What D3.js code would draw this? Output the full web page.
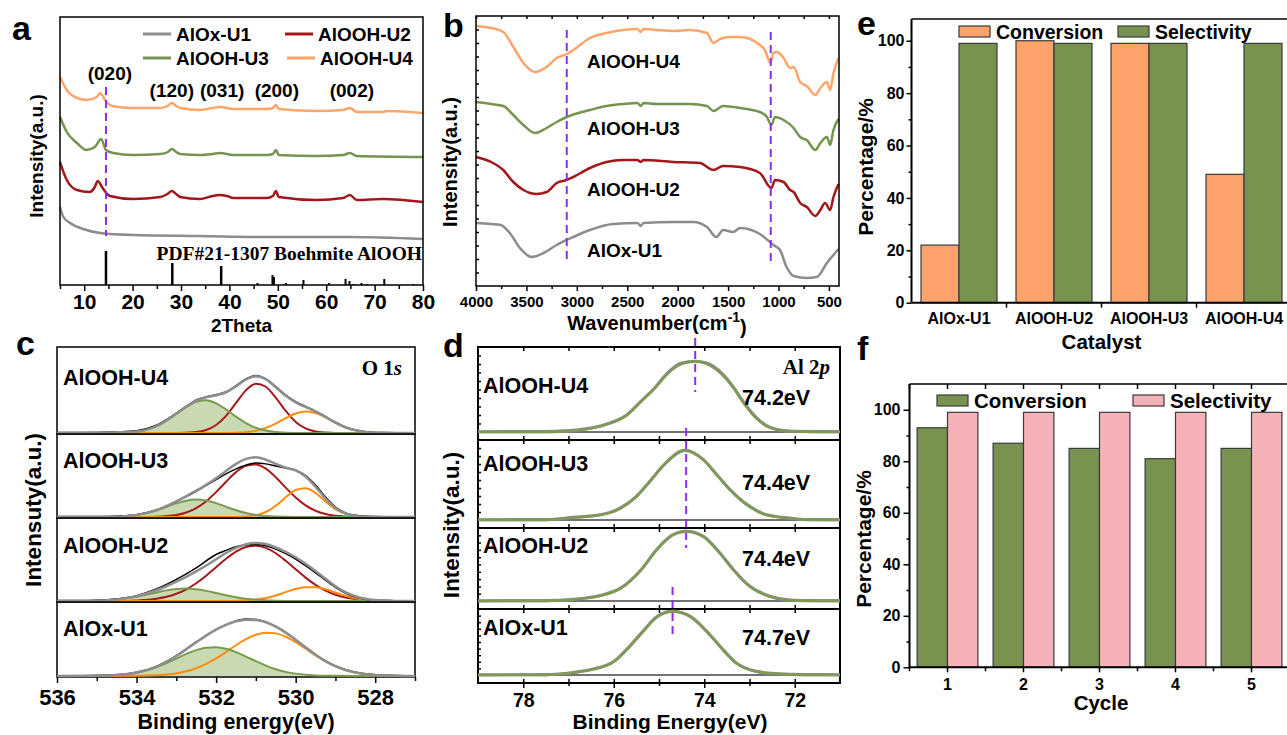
<!DOCTYPE html>
<html>
<head>
<meta charset="utf-8">
<script src="https://cdn.jsdelivr.net/npm/d3@7"></script>
<style>
  body { margin: 0; background: #fff; }
  svg { display: block; }
</style>
</head>
<body>
<div class="chart"></div>
<script>
// ---- shared ----
let samples = ['AlOx-U1', 'AlOOH-U2', 'AlOOH-U3', 'AlOOH-U4']

// ---- a: XRD (2theta, a.u.) ----
let xrdU1 = [[5, 7.8], [5.7, 6.8], [7.1, 6.2], [9.8, 5.6], [13.3, 5.2], [20.1, 5.0], [33.9, 4.9], [47.7, 4.8], [64.9, 4.8], [80, 4.6]]
let xrdU2 = [[5, 12.3], [6.4, 10.5], [8.5, 9.5], [11.1, 9.3], [12.2, 9.8], [12.8, 10.4], [13.8, 9.7], [15.3, 8.9], [20.1, 8.6], [25.7, 8.8], [27.2, 9.1], [28.1, 9.4], [29, 9.1], [29.8, 8.8], [33.9, 8.6], [36.5, 8.9], [37.8, 9.0], [39.5, 8.9], [40.8, 8.7], [47.7, 8.7], [49, 8.9], [49.6, 9.4], [50.2, 8.8], [58, 8.5], [63.5, 8.7], [64.9, 9.0], [66.3, 8.5], [71.8, 8.6], [80, 8.3]]
let xrdU3 = [[5, 16.8], [6.4, 15.3], [8.5, 14.2], [10.5, 13.5], [12.2, 13.8], [13.5, 14.6], [14.5, 13.5], [16, 13.2], [20, 13.0], [25.7, 13.1], [27.3, 13.3], [28.1, 13.6], [29, 13.3], [29.8, 13.1], [33.9, 13.0], [36.5, 13.1], [38.1, 13.2], [40.8, 13.0], [47.7, 13.0], [49, 13.1], [49.6, 13.5], [50.2, 13.0], [58, 12.9], [63.5, 13.0], [64.9, 13.2], [66.3, 12.9], [80, 12.8]]
let xrdU4 = [[5, 20.8], [6.4, 19.5], [8.5, 18.7], [10.5, 18.5], [12.6, 18.8], [13.3, 19.2], [14.3, 18.5], [15.3, 18.0], [17, 17.8], [20, 17.7], [25.7, 17.7], [27.2, 17.9], [28.1, 18.2], [29, 17.9], [29.8, 17.7], [33.9, 17.5], [36.5, 17.7], [38.1, 17.8], [40.8, 17.6], [47.7, 17.6], [49, 17.7], [49.6, 18.0], [50.2, 17.6], [58, 17.4], [63.5, 17.5], [64.9, 17.7], [66.3, 17.3], [71.8, 17.3], [72.5, 17.4], [80, 17.2]]
let pdfSticks = [[14.5, 3.4], [28.2, 2.2], [38.3, 1.9], [45.8, 0.2], [48.9, 1.0], [49.2, 0.8], [51.7, 0.2], [55.3, 0.5], [60.6, 0.2], [64.0, 0.6], [64.8, 0.4], [65.7, 0.1], [67.3, 0.2], [68.4, 0.1], [72.0, 0.6], [78.0, 0.1]]
let xrdPlanes = ['(020)', '(120)', '(031)', '(200)', '(002)']
let xrdPlaneAt = [15.3, 28.1, 38.5, 49.8, 65.3]

// ---- b: FTIR (cm-1, a.u.) ----
let ftirU1 = [[4000, 6.3], [3850, 6.2], [3755, 6.1], [3665, 5.3], [3565, 3.8], [3450, 2.9], [3330, 3.3], [3200, 4.1], [3035, 4.9], [2870, 5.6], [2640, 6.2], [2400, 6.3], [2365, 6.0], [2340, 6.3], [2045, 6.4], [1845, 6.4], [1710, 5.9], [1615, 4.9], [1550, 5.6], [1450, 5.4], [1380, 5.8], [1185, 5.2], [1050, 4.1], [985, 3.6], [920, 1.9], [850, 1.0], [720, 0.8], [620, 0.9], [520, 2.3], [405, 3.7]]
let ftirU2 = [[4000, 12.9], [3850, 12.4], [3730, 11.6], [3630, 10.4], [3530, 9.6], [3400, 9.2], [3300, 9.4], [3200, 10.3], [3100, 10.6], [3035, 10.9], [2870, 11.8], [2705, 12.4], [2540, 12.6], [2400, 12.6], [2365, 12.4], [2340, 12.6], [2045, 12.4], [1780, 12.3], [1645, 11.6], [1550, 12.0], [1380, 11.9], [1185, 11.3], [1070, 9.8], [1035, 10.6], [950, 10.4], [885, 9.6], [850, 9.4], [785, 8.3], [720, 7.9], [635, 7.0], [585, 7.6], [538, 8.3], [488, 7.6], [455, 8.9], [405, 10.2]]
let ftirU3 = [[4000, 18.4], [3850, 18.2], [3730, 18.0], [3630, 17.1], [3530, 16.1], [3415, 15.3], [3300, 15.8], [3200, 16.4], [3100, 16.9], [2870, 17.6], [2705, 18.0], [2540, 18.2], [2400, 18.3], [2365, 18.0], [2340, 18.3], [2210, 18.2], [1880, 18.2], [1710, 18.0], [1645, 17.5], [1550, 18.0], [1380, 17.8], [1185, 17.4], [1115, 16.9], [1070, 16.1], [1035, 16.9], [950, 16.6], [850, 15.8], [785, 14.9], [720, 14.6], [635, 13.6], [585, 14.3], [520, 14.9], [488, 14.1], [455, 15.6], [405, 16.7]]
let ftirU4 = [[4000, 26.0], [3850, 25.8], [3730, 25.4], [3630, 23.9], [3530, 22.3], [3415, 21.4], [3300, 21.9], [3200, 22.8], [3100, 23.2], [3035, 23.6], [2870, 24.8], [2705, 25.3], [2540, 25.6], [2400, 25.7], [2365, 25.4], [2340, 25.7], [2210, 25.6], [2045, 25.5], [1880, 25.6], [1710, 25.3], [1645, 24.3], [1580, 24.7], [1480, 24.9], [1380, 24.9], [1280, 24.7], [1185, 24.1], [1135, 23.6], [1080, 22.3], [1050, 23.3], [1015, 23.4], [950, 22.8], [885, 21.8], [850, 21.9], [785, 20.4], [720, 20.0], [635, 19.1], [585, 19.8], [520, 20.4], [488, 19.6], [455, 21.3], [405, 22.8]]
let ftirMarks = [3100, 1077]

// ---- c: O 1s XPS (eV, % of box height) ----
let o1sU4Raw = [[536, 0.5], [535, 0.6], [534.5, 1.2], [534, 2.5], [533.5, 9], [533, 23], [532.75, 31], [532.5, 38.5], [532.25, 42], [532, 44.5], [531.75, 48], [531.5, 55], [531.25, 63], [531, 67], [530.75, 63], [530.5, 54], [530.25, 44], [530, 36.5], [529.75, 31], [529.5, 25.5], [529.25, 19], [529, 12.5], [528.75, 7], [528.5, 3.5], [528.25, 1.5], [528, 0.6], [527.5, 0.4], [527, 0.3]]
let o1sU4Fit = [[536, 0], [535, 0.2], [534.5, 0.8], [534, 1.7], [533.5, 8], [533, 22.4], [532.75, 30.5], [532.5, 37.5], [532.25, 41.5], [532, 43.8], [531.75, 47.4], [531.5, 54.2], [531.25, 62.2], [531, 66.1], [530.75, 62.5], [530.5, 53.2], [530.25, 43.2], [530, 35.6], [529.75, 30.3], [529.5, 25], [529.25, 18.7], [529, 12], [528.75, 6.6], [528.5, 3.1], [528.25, 1.2], [528, 0.4], [527.5, 0], [527, 0]]
let o1sU4Green = [[536, 0], [535, 0.2], [534.5, 0.8], [534, 1.7], [533.5, 8], [533, 22.4], [532.75, 30.5], [532.5, 36.4], [532.25, 38], [532, 34.5], [531.75, 27.4], [531.5, 19], [531.25, 11.6], [531, 6.1], [530.75, 2.8], [530.5, 1.1], [530, 0.1], [527, 0]]
let o1sU4Red = [[536, 0], [533, 0], [532.5, 1.1], [532.25, 3.5], [532, 9.3], [531.75, 20], [531.5, 34.9], [531.25, 49.6], [531, 57.3], [530.75, 53.8], [530.5, 41.1], [530.25, 25.6], [530, 12.9], [529.75, 5.3], [529.5, 1.8], [529.25, 0.5], [529, 0], [527, 0]]
let o1sU4Orange = [[536, 0], [531.75, 0], [531.5, 0.3], [531.25, 1], [531, 2.7], [530.75, 5.9], [530.5, 11], [530.25, 17.2], [530, 22.6], [529.75, 25], [529.5, 23.2], [529.25, 18.2], [529, 11.9], [528.75, 6.6], [528.5, 3.1], [528.25, 1.2], [528, 0.4], [527.5, 0], [527, 0]]

let o1sU3Raw = [[536, 0.5], [535, 0.5], [534.5, 1], [534, 2.8], [533.5, 8.5], [533, 18.5], [532.75, 24.5], [532.5, 31], [532.25, 38], [532, 45], [531.75, 52], [531.5, 58], [531.25, 62.5], [531, 65], [530.75, 64], [530.5, 61.5], [530.25, 59], [530, 56.5], [529.75, 50], [529.5, 38.5], [529.25, 24], [529, 12], [528.75, 5], [528.5, 2], [528.25, 0.8], [528, 0.5], [527.5, 0.3], [527, 0.3]]
let o1sU3Fit = [[536, 0], [535, 0.1], [534.5, 0.4], [534, 2.4], [533.5, 8.3], [533, 18.9], [532.75, 25.2], [532.5, 31.7], [532.25, 38.9], [532, 46.7], [531.75, 55.5], [531.5, 64], [531.25, 70], [531, 72], [530.75, 69], [530.5, 64], [530.25, 59.4], [530, 56.2], [529.75, 48.7], [529.5, 36.4], [529.25, 22.3], [529, 10.9], [528.75, 4.3], [528.5, 1.3], [528.25, 0.3], [528, 0.1], [527, 0]]
let o1sU3Green = [[536, 0], [535, 0.1], [534.5, 0.4], [534, 2.4], [533.5, 7.9], [533, 16.4], [532.75, 19.7], [532.5, 21], [532.25, 19.9], [532, 16.7], [531.75, 12.4], [531.5, 8.2], [531.25, 4.8], [531, 2.5], [530.75, 1.1], [530.5, 0.5], [530, 0.1], [527, 0]]
let o1sU3Red = [[536, 0], [534, 0], [533.5, 0.4], [533, 2.5], [532.75, 5.5], [532.5, 10.7], [532.25, 19], [532, 30], [531.75, 42.5], [531.5, 54.1], [531.25, 61.8], [531, 63.3], [530.75, 58.2], [530.5, 47.9], [530.25, 35.4], [530, 23.5], [529.75, 14], [529.5, 7.5], [529.25, 3.6], [529, 1.5], [528.75, 0.6], [528.5, 0.2], [528, 0], [527, 0]]
let o1sU3Orange = [[536, 0], [531.5, 0], [531.25, 0.6], [531, 2.1], [530.75, 6], [530.5, 13.5], [530.25, 23.8], [530, 32.6], [529.75, 34.7], [529.5, 28.9], [529.25, 18.7], [529, 9.4], [528.75, 3.7], [528.5, 1.1], [528.25, 0.3], [528, 0], [527, 0]]

let o1sU2Raw = [[536, 0.5], [535.5, 0.6], [535, 0.9], [534.5, 2.5], [534, 6.5], [533.5, 14.5], [533, 26], [532.5, 40], [532, 56], [531.75, 61], [531.5, 65.5], [531.25, 67.5], [531, 68], [530.75, 66.5], [530.5, 62.5], [530.25, 57], [530, 50.5], [529.75, 42.5], [529.5, 34], [529.25, 25], [529, 16.5], [528.75, 9.5], [528.5, 4.8], [528.25, 2], [528, 0.8], [527.5, 0.4], [527, 0.3]]
let o1sU2Fit = [[536, 0], [535.5, 0.1], [535, 0.4], [534.5, 1.8], [534, 5.7], [533.5, 13], [533.25, 17.8], [533, 23.2], [532.75, 29.1], [532.5, 35.6], [532.25, 42.7], [532, 50.3], [531.75, 57.8], [531.5, 64], [531.25, 68.4], [531, 69.9], [530.75, 68.6], [530.5, 64.5], [530.25, 59.2], [530, 52.7], [529.75, 44.9], [529.5, 36.1], [529.25, 26.7], [529, 17.8], [528.75, 10.6], [528.5, 5.7], [528.25, 2.6], [528, 1.1], [527.5, 0.1], [527, 0]]
let o1sU2Green = [[536, 0], [535.5, 0.1], [535, 0.4], [534.5, 1.8], [534, 5.1], [533.5, 10.3], [533.25, 12.8], [533, 14.5], [532.75, 15], [532.5, 14.2], [532.25, 12.2], [532, 9.6], [531.75, 7], [531.5, 4.6], [531.25, 2.7], [531, 1.5], [530.5, 0.3], [530, 0], [527, 0]]
let o1sU2Red = [[536, 0], [534.5, 0], [534, 0.6], [533.5, 2.7], [533, 8.7], [532.75, 14.1], [532.5, 21.4], [532.25, 30.5], [532, 40.7], [531.75, 50.8], [531.5, 59.4], [531.25, 65], [531, 66.7], [530.75, 64], [530.5, 57.5], [530.25, 48.4], [530, 38.2], [529.75, 28.2], [529.5, 19.5], [529.25, 12.6], [529, 7.6], [528.75, 4.3], [528.5, 2.3], [528.25, 1.1], [528, 0.5], [527.5, 0.1], [527, 0]]
let o1sU2Orange = [[536, 0], [531.5, 0], [531.25, 0.7], [531, 1.7], [530.75, 3.6], [530.5, 6.7], [530.25, 10.7], [530, 14.5], [529.75, 16.7], [529.5, 16.6], [529.25, 14.1], [529, 10.2], [528.75, 6.3], [528.5, 3.4], [528.25, 1.5], [528, 0.6], [527.75, 0.2], [527, 0]]

let o1sU1Raw = [[536, 0.4], [535, 0.6], [534.5, 1.6], [534, 5], [533.5, 13], [533, 27.5], [532.5, 46], [532, 63], [531.75, 69.5], [531.5, 74.5], [531.25, 77], [531, 76.5], [530.75, 73], [530.5, 67], [530.25, 59], [530, 49], [529.75, 39], [529.5, 29], [529, 13.5], [528.5, 5], [528, 1.6], [527.5, 0.6], [527, 0.4]]
let o1sU1Fit = [[536, 0], [535, 0.3], [534.5, 1.2], [534, 4.6], [533.5, 12.7], [533.25, 19.2], [533, 27], [532.75, 36.1], [532.5, 45.5], [532.25, 54.6], [532, 62.7], [531.75, 69.2], [531.5, 73.9], [531.25, 76.1], [531, 75.8], [530.75, 72.7], [530.5, 66.8], [530.25, 58.6], [530, 48.9], [529.75, 38.6], [529.5, 28.7], [529.25, 20.1], [529, 13.2], [528.75, 8.1], [528.5, 4.7], [528.25, 2.6], [528, 1.3], [527.5, 0.3], [527, 0]]
let o1sU1Green = [[536, 0], [535.5, 0], [535, 0.3], [534.5, 1.2], [534, 4.4], [533.5, 11.8], [533.25, 17.3], [533, 23.5], [532.75, 29.8], [532.5, 35], [532.25, 38.3], [532, 38.9], [531.75, 36.7], [531.5, 32.3], [531.25, 26.3], [531, 20], [530.75, 14.1], [530.5, 9.2], [530.25, 5.6], [530, 3.2], [529.5, 0.8], [529, 0.2], [528.5, 0], [527, 0]]
let o1sU1Orange = [[536, 0], [534, 0.2], [533.5, 0.9], [533.25, 1.9], [533, 3.5], [532.75, 6.3], [532.5, 10.5], [532.25, 16.3], [532, 23.8], [531.75, 32.5], [531.5, 41.6], [531.25, 49.8], [531, 55.8], [530.75, 58.6], [530.5, 57.6], [530.25, 53], [530, 45.7], [529.75, 36.9], [529.5, 27.9], [529.25, 19.7], [529, 13], [528.75, 8.1], [528.5, 4.7], [528.25, 2.6], [528, 1.3], [527.5, 0.3], [527, 0]]

// ---- d: Al 2p XPS (eV, % of box height) ----
let alU4Raw = [[79, 0.3], [78, 0.4], [77.3, 0.8], [76.7, 3], [76.2, 8.5], [75.7, 20.5], [75.4, 36], [75.1, 51.5], [74.8, 70], [74.5, 81], [74.2, 83], [73.95, 81], [73.6, 68.5], [73.35, 52.5], [73.15, 36.5], [72.85, 17], [72.55, 5.5], [72.1, 1], [71.5, 0.5], [71, 0.4]]
let alU4Fit = [[79, 0], [77.3, 0], [76.7, 2.4], [76.2, 8], [75.7, 20], [75.4, 35.5], [75.1, 51], [74.8, 69], [74.5, 80], [74.2, 83.5], [73.95, 80], [73.6, 67], [73.35, 51], [73.15, 35.5], [72.85, 16], [72.55, 5], [72.1, 0.5], [71.5, 0], [71, 0]]
let alU3Raw = [[79, 0.3], [77.5, 0.5], [76.9, 3.2], [76.3, 6.5], [75.85, 15], [75.5, 29.5], [75.2, 48.5], [74.85, 71.5], [74.43, 87], [74.02, 75.5], [73.72, 56.5], [73.43, 38], [73.06, 19.5], [72.62, 6.5], [72.1, 2.3], [71.74, 0.6], [71, 0.4]]
let alU3Fit = [[79, 0], [77.5, 0], [76.9, 3], [76.3, 6], [75.85, 14.6], [75.5, 29], [75.2, 48], [74.85, 71], [74.43, 87.5], [74.02, 75], [73.72, 56], [73.43, 37.5], [73.06, 19], [72.62, 6], [72.1, 2], [71.74, 0], [71, 0]]
let alU2Raw = [[79, 0.3], [77.5, 0.5], [76.9, 2.3], [76.3, 7.5], [75.85, 17.5], [75.4, 42.5], [75.05, 70.5], [74.7, 90.5], [74.4, 95.5], [74.02, 88.5], [73.65, 65.5], [73.35, 42.5], [73, 20.5], [72.55, 6.5], [72.1, 1.3], [71.5, 0.5], [71, 0.4]]
let alU2Fit = [[79, 0], [77.5, 0], [76.9, 2], [76.3, 7], [75.85, 17], [75.4, 42], [75.05, 70], [74.7, 90], [74.4, 96], [74.02, 88], [73.65, 65], [73.35, 42], [73, 20], [72.55, 6], [72.1, 1], [71.5, 0], [71, 0]]
let alU1Raw = [[79, 0.3], [77.5, 0.5], [76.9, 3.8], [76.45, 9], [76, 20.5], [75.65, 43.5], [75.35, 66.5], [75.05, 88], [74.7, 96.5], [74.3, 88.5], [73.95, 66.5], [73.65, 43.5], [73.3, 18.5], [72.85, 5.5], [72.35, 1.8], [71.8, 0.5], [71, 0.4]]
let alU1Fit = [[79, 0], [77.5, 0], [76.9, 3.5], [76.45, 8.6], [76, 20], [75.65, 43], [75.35, 66], [75.05, 88], [74.7, 97], [74.3, 88], [73.95, 66], [73.65, 43], [73.3, 18], [72.85, 5], [72.35, 1.5], [71.8, 0], [71, 0]]
let alPeaks = [74.7, 74.4, 74.4, 74.2]

// ---- e: catalyst bars ----
let catalysts = ['AlOx-U1', 'AlOOH-U2', 'AlOOH-U3', 'AlOOH-U4']
let conversionE = [22, 100, 99, 49]
let selectivityE = [99, 99, 99, 99]

// ---- f: cycling bars ----
let cycles = ['1', '2', '3', '4', '5']
let conversionF = [93, 87, 85, 81, 85]
let selectivityF = [99, 99, 99, 99, 99]

// ---- styles ----
const FONT = '"Liberation Sans", Arial, Helvetica, sans-serif'
const SERIF = '"Liberation Serif", "Times New Roman", serif'
let sampleColors = ['#8c8c8c', '#a3171a', '#76934f', '#ffa56a']
let purple = '#8e2cf0'

let svg = d3.select('.chart').append('svg')
  .attr('width', 1287)
  .attr('height', 735)
  .attr('font-family', FONT)

init()

function init () {
  drawXRD()
  drawFTIR()
  drawO1s()
  drawAl2p()
  drawBarsE()
  drawBarsF()
  panelLetters()
}

// helpers
function label (g, str, x, y, size, anchor, family) {
  return g.append('text')
    .attr('x', x)
    .attr('y', y)
    .attr('dy', '0.35em')
    .attr('font-size', size + 'px')
    .attr('font-weight', 'bold')
    .attr('font-family', family || FONT)
    .attr('text-anchor', anchor || 'start')
    .attr('fill', '#000')
    .text(str)
}
function yTitle (g, str, x, y, size) {
  return g.append('text')
    .attr('transform', 'translate(' + x + ',' + y + ') rotate(-90)')
    .attr('dy', '0.35em')
    .attr('text-anchor', 'middle')
    .attr('font-size', size + 'px')
    .attr('font-weight', 'bold')
    .text(str)
}
function box (g, x0, y0, x1, y1, sw) {
  g.append('rect')
    .attr('x', x0)
    .attr('y', y0)
    .attr('width', x1 - x0)
    .attr('height', y1 - y0)
    .attr('fill', 'none')
    .attr('stroke', '#000')
    .attr('stroke-width', sw || 1.5)
}
function styleAxis (a, size) {
  a.select('.domain').remove()
  a.selectAll('.tick line').attr('stroke', '#000').attr('stroke-width', 1.5)
  a.selectAll('.tick text')
    .attr('font-size', size + 'px')
    .attr('font-weight', 'bold')
    .attr('font-family', FONT)
    .attr('fill', '#000')
}
function path (g, data, line, color, width) {
  return g.append('path')
    .attr('d', line(data))
    .attr('fill', 'none')
    .attr('stroke', color)
    .attr('stroke-width', width)
    .attr('stroke-linejoin', 'round')
}
function dashed (g, x, y1, y2) {
  g.append('line')
    .attr('x1', x).attr('x2', x)
    .attr('y1', y1).attr('y2', y2)
    .attr('stroke', purple)
    .attr('stroke-width', 2)
    .attr('stroke-dasharray', '8,5')
}

// a
function drawXRD () {
  let g = svg.append('g').attr('class', 'panel-a')
  let x = d3.scaleLinear().domain([5, 80]).range([60, 423])
  let y = d3.scaleLinear().domain([0, 26.8]).range([285, 17])
  let line = d3.line().x(d => x(d[0])).y(d => y(d[1])).curve(d3.curveMonotoneX)

  g.selectAll('.stick').data(pdfSticks).enter().append('line')
    .attr('class', 'stick')
    .attr('x1', d => x(d[0])).attr('x2', d => x(d[0]))
    .attr('y1', y(0)).attr('y2', d => y(d[1]))
    .attr('stroke', '#000')
    .attr('stroke-width', d => d[1] > 1.5 ? 2.5 : 2)

  let curves = [xrdU1, xrdU2, xrdU3, xrdU4]
  curves.forEach((c, i) => path(g, c, line, sampleColors[i], 2.5))

  dashed(g, x(14.5), y(19.8), y(4.9))

  box(g, 60, 17, 423, 285, 1.5)
  let ax = g.append('g').attr('transform', 'translate(0,285)')
    .call(d3.axisBottom(x).tickValues(d3.range(10, 81, 10)).tickSize(6).tickPadding(3))
  styleAxis(ax, 21)
  let mx = g.append('g').attr('transform', 'translate(0,285)')
    .call(d3.axisBottom(x).tickValues(d3.range(5, 80, 10)).tickSize(4).tickFormat(''))
  styleAxis(mx, 10)

  label(g, '2Theta', x(42.5), 325, 19, 'middle')
  yTitle(g, 'Intensity(a.u.)', 36, 156, 19)

  // legend
  let lx = [143, 285, 143, 287]
  let ly = [34, 34, 58, 58]
  samples.forEach((s, i) => {
    g.append('line')
      .attr('x1', lx[i]).attr('x2', lx[i] + 28)
      .attr('y1', ly[i]).attr('y2', ly[i])
      .attr('stroke', sampleColors[i]).attr('stroke-width', 3)
    label(g, s, lx[i] + 33, ly[i], 19)
  })

  xrdPlanes.forEach((p, i) => {
    label(g, p, x(xrdPlaneAt[i]), i === 0 ? y(21.2) : y(19.5), 19, 'middle')
  })
  g.append('text')
    .attr('x', 422).attr('y', 260)
    .attr('text-anchor', 'end')
    .attr('font-family', SERIF)
    .attr('font-weight', 'bold')
    .attr('font-size', '19.5px')
    .text('PDF#21-1307 Boehmite AlOOH')
}

// b
function drawFTIR () {
  let g = svg.append('g').attr('class', 'panel-b')
  let x = d3.scaleLinear().domain([4000, 400]).range([476, 839])
  let y = d3.scaleLinear().domain([0, 27]).range([286, 16])
  let line = d3.line().x(d => x(d[0])).y(d => y(d[1])).curve(d3.curveMonotoneX)

  let curves = [ftirU1, ftirU2, ftirU3, ftirU4]
  curves.forEach((c, i) => path(g, c, line, sampleColors[i], 2.5))

  dashed(g, x(ftirMarks[0]), y(25.6), y(2.6))
  dashed(g, x(ftirMarks[1]), y(25.4), y(2.3))

  box(g, 476, 16, 839, 286, 1.5)
  let ax = g.append('g').attr('transform', 'translate(0,286)')
    .call(d3.axisBottom(x).tickValues(d3.range(4000, 499, -500)).tickFormat(d3.format('d')).tickSize(5).tickPadding(5))
  styleAxis(ax, 15)
  let mx = g.append('g').attr('transform', 'translate(0,286)')
    .call(d3.axisBottom(x).tickValues(d3.range(3750, 400, -500)).tickSize(3).tickFormat(''))
  styleAxis(mx, 10)
  let tx = g.append('g').attr('transform', 'translate(0,16)')
    .call(d3.axisBottom(x).tickValues(d3.range(4000, 400, -250)).tickSize(3).tickFormat(''))
  styleAxis(tx, 10)
  let ly = g.append('g').attr('transform', 'translate(476,0)')
    .call(d3.axisRight(y).tickValues(d3.range(1.35, 27, 1.35)).tickSize(3).tickFormat(''))
  styleAxis(ly, 10)

  let t = label(g, 'Wavenumber(cm', 657, 323, 20, 'middle')
  t.append('tspan').attr('font-size', '14px').attr('dy', '-0.6em').text('-1')
  t.append('tspan').attr('dy', '0.6em').text(')')
  yTitle(g, 'Intensity(a.u.)', 450, 162, 20)

  let names = [samples[3], samples[2], samples[1], samples[0]]
  let ny = [61, 128, 189, 250]
  names.forEach((n, i) => label(g, n, 587, ny[i], 19))
}

// c
function drawO1s () {
  let g = svg.append('g').attr('class', 'panel-c')
  let x = d3.scaleLinear().domain([536, 527]).range([57, 415])
  let edges = [347, 434, 518, 602, 677]
  let labelDy = [30, 26, 27, 26]
  let sets = [
    { name: samples[3], raw: o1sU4Raw, fit: o1sU4Fit, green: o1sU4Green, red: o1sU4Red, orange: o1sU4Orange },
    { name: samples[2], raw: o1sU3Raw, fit: o1sU3Fit, green: o1sU3Green, red: o1sU3Red, orange: o1sU3Orange },
    { name: samples[1], raw: o1sU2Raw, fit: o1sU2Fit, green: o1sU2Green, red: o1sU2Red, orange: o1sU2Orange },
    { name: samples[0], raw: o1sU1Raw, fit: o1sU1Fit, green: o1sU1Green, red: null, orange: o1sU1Orange }
  ]
  sets.forEach((s, i) => {
    let top = edges[i]
    let bottom = edges[i + 1]
    let y = d3.scaleLinear().domain([0, 100]).range([bottom - 1, top])
    let line = d3.line().x(d => x(d[0])).y(d => y(d[1])).curve(d3.curveMonotoneX)
    let area = d3.area().x(d => x(d[0])).y0(y(0)).y1(d => y(d[1])).curve(d3.curveMonotoneX)
    let sub = g.append('g')
    box(sub, 57, top, 415, bottom, 1.5)
    sub.append('path').attr('d', area(s.green)).attr('fill', '#c9d9b1')
    if (s.red) path(sub, s.red, line, '#a8191b', 2)
    path(sub, s.orange, line, '#ff8c0a', 2)
    path(sub, s.green, line, '#7a9a4f', 2)
    path(sub, s.raw, line, '#000', 1.5)
    path(sub, s.fit, line, '#8e8e8e', 2.5)
    label(sub, s.name, 63, top + labelDy[i], 21.5)
  })
  let o = g.append('text')
    .attr('x', 402).attr('y', 368).attr('dy', '0.35em')
    .attr('text-anchor', 'end')
    .attr('font-family', SERIF).attr('font-weight', 'bold').attr('font-size', '21px')
    .text('O 1')
  o.append('tspan').attr('font-style', 'italic').text('s')

  let ax = g.append('g').attr('transform', 'translate(0,677)')
    .call(d3.axisBottom(x).tickValues(d3.range(536, 527, -2)).tickSize(6).tickPadding(6.5))
  styleAxis(ax, 22)
  let mx = g.append('g').attr('transform', 'translate(0,677)')
    .call(d3.axisBottom(x).tickValues(d3.range(535, 526, -2)).tickSize(4).tickFormat(''))
  styleAxis(mx, 10)
  label(g, 'Binding energy(eV)', 236, 721, 21.5, 'middle')
  yTitle(g, 'Intensuty(a.u.)', 33, 510, 22.5)
}

// d
function drawAl2p () {
  let g = svg.append('g').attr('class', 'panel-d')
  let x = d3.scaleLinear().domain([79, 71]).range([478, 840])
  let edges = [347, 440, 528, 609, 683]
  let nameDy = [38, 23, 17, 18]
  let evDy = [50, 42, 30, 28]
  let dashSpan = [[338, 392], [428, 548], null, [587, 637]]
  let sets = [
    { name: samples[3], raw: alU4Raw, fit: alU4Fit, peak: alPeaks[3] },
    { name: samples[2], raw: alU3Raw, fit: alU3Fit, peak: alPeaks[2] },
    { name: samples[1], raw: alU2Raw, fit: alU2Fit, peak: alPeaks[1] },
    { name: samples[0], raw: alU1Raw, fit: alU1Fit, peak: alPeaks[0] }
  ]
  sets.forEach((s, i) => {
    let top = edges[i]
    let bottom = edges[i + 1]
    let y = d3.scaleLinear().domain([0, 100]).range([bottom - 8, top])
    let line = d3.line().x(d => x(d[0])).y(d => y(d[1])).curve(d3.curveMonotoneX)
    let sub = g.append('g')
    box(sub, 478, top, 840, bottom, 2)
    // inward ticks on the top and bottom of every box
    let tt = sub.append('g').attr('transform', 'translate(0,' + top + ')')
      .call(d3.axisBottom(x).tickValues(d3.range(78, 71, -1)).tickSize(4).tickFormat(''))
    styleAxis(tt, 10)
    let bt = sub.append('g').attr('transform', 'translate(0,' + bottom + ')')
      .call(d3.axisTop(x).tickValues(d3.range(78, 71, -1)).tickSize(4).tickFormat(''))
    styleAxis(bt, 10)
    let lt = sub.append('g').attr('transform', 'translate(478,0)')
      .call(d3.axisRight(y).tickValues(d3.range(10, 100, 10)).tickSize(3).tickFormat(''))
    styleAxis(lt, 10)
    sub.append('line')
      .attr('x1', 478).attr('x2', 840)
      .attr('y1', y(0)).attr('y2', y(0))
      .attr('stroke', '#444').attr('stroke-width', 1.5)
    path(sub, s.raw, line, '#8c8c8c', 3.2)
    path(sub, s.fit, line, '#7f9b52', 2.3)
    label(sub, s.name, 483, top + nameDy[i], 21.5)
    label(sub, s.peak.toFixed(1) + 'eV', 742, top + evDy[i], 21.5)
    if (dashSpan[i]) dashed(sub, x(s.peak), dashSpan[i][0], dashSpan[i][1])
  })
  let t = g.append('text')
    .attr('x', 830).attr('y', 367).attr('dy', '0.35em')
    .attr('text-anchor', 'end')
    .attr('font-family', SERIF).attr('font-weight', 'bold').attr('font-size', '21px')
    .text('Al 2')
  t.append('tspan').attr('font-style', 'italic').text('p')

  let ax = g.append('g').attr('transform', 'translate(0,683)')
    .call(d3.axisBottom(x).tickValues([78, 76, 74, 72]).tickSize(5).tickPadding(5))
  styleAxis(ax, 19.5)
  let mx = g.append('g').attr('transform', 'translate(0,683)')
    .call(d3.axisBottom(x).tickValues([77, 75, 73]).tickSize(3).tickFormat(''))
  styleAxis(mx, 10)
  label(g, 'Binding Energy(eV)', 670, 722, 21, 'middle')
  yTitle(g, 'Intensity(a.u.)', 451, 525, 22.5)
}

// grouped bars used by e and f
function groupedBars (g, x0, y, cats, series, colors) {
  let keys = ['Conversion', 'Selectivity']
  let x1 = d3.scaleBand().domain(keys).range([0, x0.bandwidth()]).paddingOuter(0.25)
  let rows = cats.map((c, i) => ({ cat: c, vals: [series[0][i], series[1][i]] }))
  let grp = g.selectAll('.bar-group').data(rows).enter().append('g')
    .attr('class', 'bar-group')
    .attr('transform', d => 'translate(' + x0(d.cat) + ',0)')
  grp.selectAll('rect').data(d => d.vals.map((v, k) => ({ key: keys[k], v: v, k: k }))).enter().append('rect')
    .attr('x', d => x1(d.key))
    .attr('y', d => y(d.v))
    .attr('width', x1.bandwidth())
    .attr('height', d => y(0) - y(d.v))
    .attr('fill', d => colors[d.k])
    .attr('stroke', '#3a3a3a')
    .attr('stroke-width', 1.2)
}
function barLegend (g, colors, xs, yTop, size) {
  let keys = ['Conversion', 'Selectivity']
  keys.forEach((k, i) => {
    g.append('rect')
      .attr('x', xs[i]).attr('y', yTop)
      .attr('width', 31).attr('height', 11)
      .attr('fill', colors[i]).attr('stroke', '#3a3a3a').attr('stroke-width', 1.2)
    label(g, k, xs[i] + 37, yTop + 6, size)
  })
}

// e
function drawBarsE () {
  let g = svg.append('g').attr('class', 'panel-e')
  let colors = ['#fca36c', '#78934f']
  let x0 = d3.scaleBand().domain(catalysts).range([911.5, 1291.5])
  let y = d3.scaleLinear().domain([0, 108.3]).range([302.7, 19])
  groupedBars(g, x0, y, catalysts, [conversionE, selectivityE], colors)

  g.append('line').attr('x1', 911.5).attr('x2', 1291.5).attr('y1', 19).attr('y2', 19)
    .attr('stroke', '#000').attr('stroke-width', 1.5)
  g.append('line').attr('x1', 911.5).attr('x2', 1291.5).attr('y1', 302.7).attr('y2', 302.7)
    .attr('stroke', '#000').attr('stroke-width', 2)
  g.append('line').attr('x1', 911.5).attr('x2', 911.5).attr('y1', 19).attr('y2', 302.7)
    .attr('stroke', '#000').attr('stroke-width', 2)

  let ay = g.append('g').attr('transform', 'translate(911.5,0)')
    .call(d3.axisLeft(y).tickValues(d3.range(0, 101, 20)).tickSize(5).tickPadding(2))
  styleAxis(ay, 16)
  let my = g.append('g').attr('transform', 'translate(911.5,0)')
    .call(d3.axisLeft(y).tickValues(d3.range(10, 100, 20)).tickSize(3).tickFormat(''))
  styleAxis(my, 10)
  let ax = g.append('g').attr('transform', 'translate(0,302.7)')
    .call(d3.axisBottom(x0).tickSize(0).tickPadding(10))
  styleAxis(ax, 16)
  catalysts.slice(1).forEach(c => {
    g.append('line').attr('x1', x0(c)).attr('x2', x0(c)).attr('y1', 302.7).attr('y2', 307.7)
      .attr('stroke', '#000').attr('stroke-width', 1.5)
  })

  barLegend(g, colors, [959, 1118], 26, 19.5)
  label(g, 'Catalyst', 1101.5, 342, 20.5, 'middle')
  yTitle(g, 'Percentage/%', 866, 167, 21)
}

// f
function drawBarsF () {
  let g = svg.append('g').attr('class', 'panel-f')
  let colors = ['#78934f', '#f4b2b8']
  let x0 = d3.scaleBand().domain(cycles).range([909.5, 1289.5])
  let y = d3.scaleLinear().domain([0, 110]).range([667.3, 384])
  groupedBars(g, x0, y, cycles, [conversionF, selectivityF], colors)

  g.append('line').attr('x1', 909.5).attr('x2', 1289.5).attr('y1', 384).attr('y2', 384)
    .attr('stroke', '#000').attr('stroke-width', 1.5)
  g.append('line').attr('x1', 909.5).attr('x2', 1289.5).attr('y1', 667.3).attr('y2', 667.3)
    .attr('stroke', '#000').attr('stroke-width', 2)
  g.append('line').attr('x1', 909.5).attr('x2', 909.5).attr('y1', 384).attr('y2', 667.3)
    .attr('stroke', '#000').attr('stroke-width', 2)

  let ay = g.append('g').attr('transform', 'translate(909.5,0)')
    .call(d3.axisLeft(y).tickValues(d3.range(0, 101, 20)).tickSize(6).tickPadding(3))
  styleAxis(ay, 16)
  let my = g.append('g').attr('transform', 'translate(909.5,0)')
    .call(d3.axisLeft(y).tickValues(d3.range(10, 100, 20)).tickSize(3).tickFormat(''))
  styleAxis(my, 10)
  let ax = g.append('g').attr('transform', 'translate(0,667.3)')
    .call(d3.axisBottom(x0).tickSize(5).tickPadding(6))
  styleAxis(ax, 16)
  // half-step ticks bottom and top
  cycles.forEach(c => {
    g.append('line').attr('x1', x0(c)).attr('x2', x0(c)).attr('y1', 667.3).attr('y2', 671.3)
      .attr('stroke', '#000').attr('stroke-width', 1.5)
    ;[x0(c), x0(c) + x0.bandwidth() / 2].forEach(px => {
      g.append('line').attr('x1', px).attr('x2', px).attr('y1', 384).attr('y2', 389)
        .attr('stroke', '#000').attr('stroke-width', 1.5)
    })
  })

  barLegend(g, colors, [937, 1133], 395, 20.5)
  label(g, 'Cycle', 1101, 703, 20.5, 'middle')
  yTitle(g, 'Percentage/%', 864, 539, 21)
}

function panelLetters () {
  let letters = [['a', 12, 40], ['b', 443, 37], ['c', 16, 355], ['d', 443, 357], ['e', 857, 35], ['f', 857, 360]]
  letters.forEach(l => {
    svg.append('text')
      .attr('x', l[1]).attr('y', l[2])
      .attr('font-size', '34px')
      .attr('font-weight', 'bold')
      .text(l[0])
  })
}
</script>
</body>
</html>
